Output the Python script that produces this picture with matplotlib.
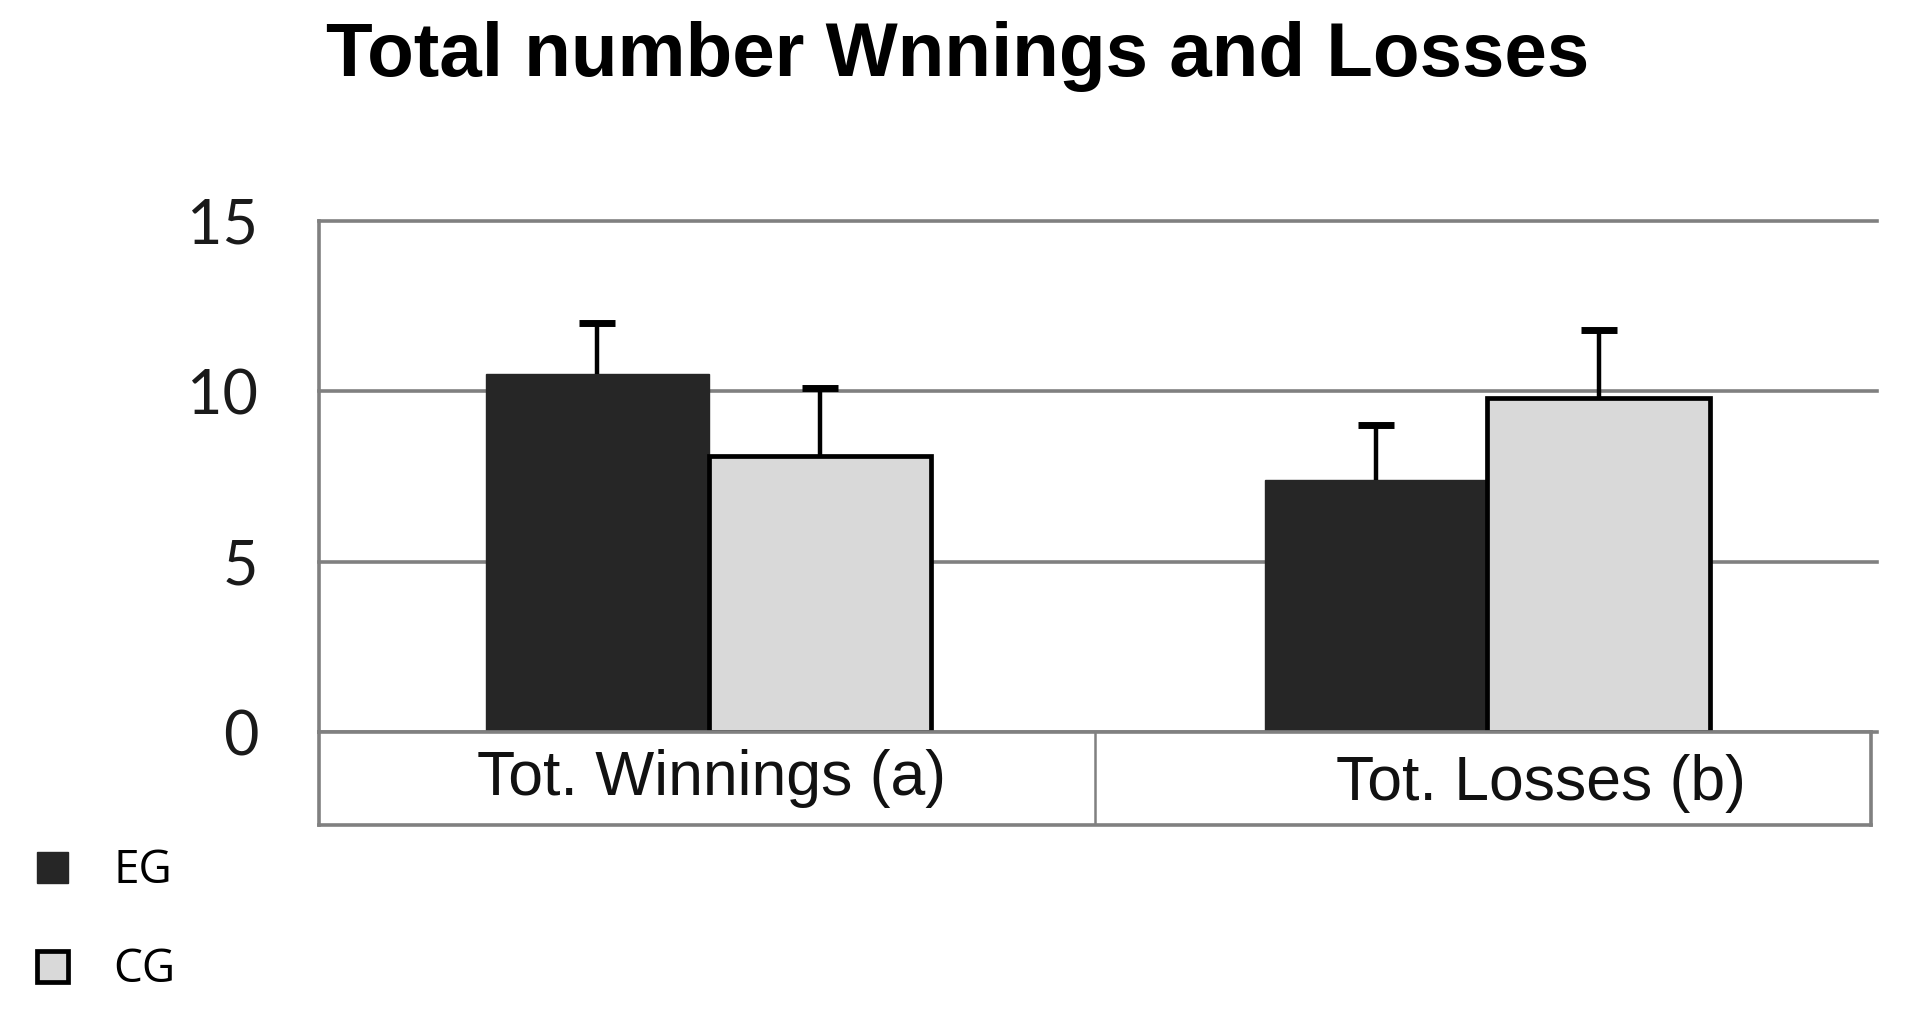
import matplotlib
matplotlib.use("Agg")
import matplotlib.pyplot as plt
from matplotlib.patches import Patch
import numpy as np

# data
categories = ["Tot. Winnings (a)", "Tot. Losses (b)"]
groups = ["EG", "CG"]
eg_mean = [10.5, 7.4]
eg_sd = [1.5, 1.6]
cg_mean = [8.1, 9.8]
cg_sd = [2.0, 2.0]
y_ticks = [0, 5, 10, 15]

eg_color = "#262626"
cg_color = "#d9d9d9"
grid_gray = "#808080"

fig = plt.figure(figsize=(19.11, 10.09), dpi=100)

ax = fig.add_axes([0.1671, 0.2742, 0.815, 0.5072])
ax_cat = fig.add_axes([0.1671, 0.1824, 0.8119, 0.0918])

x = np.arange(len(categories))
w = 0.286

ax.bar(x - w / 2, eg_mean, w, color=eg_color, edgecolor=eg_color, linewidth=1, zorder=3)
ax.bar(x + w / 2, cg_mean, w, color=cg_color, edgecolor="black", linewidth=3.4, zorder=3)

err_style = dict(fmt="none", ecolor="black", elinewidth=3.2, capsize=13, capthick=5, zorder=4)
for xs, m, sd in [(x - w / 2, eg_mean, eg_sd), (x + w / 2, cg_mean, cg_sd)]:
    eb = ax.errorbar(xs, m, yerr=[np.zeros(len(sd)), sd], **err_style)
    # only the upper cap is drawn in the original
    eb[1][0].set_visible(False)

ax.set_xlim(-0.5, 1.5)
ax.set_ylim(0, 15)
ax.set_yticks(y_ticks)
ax.set_yticklabels([str(t) for t in y_ticks], fontsize=44, family="Lato", color="#1a1a1a")
ax.set_xticks([])
ax.tick_params(axis="y", length=0, pad=44)
ax.yaxis.grid(True, color=grid_gray, linewidth=2.6)
ax.set_axisbelow(True)
for side in ["top", "right", "bottom"]:
    ax.spines[side].set_visible(False)
ax.spines["left"].set_color(grid_gray)
ax.spines["left"].set_linewidth(2.6)
for gl in ax.get_ygridlines():
    gl.set_clip_on(False)

# category strip under the bars
ax_cat.set_xlim(-0.5, 1.5)
ax_cat.set_ylim(0, 1)
ax_cat.set_xticks([])
ax_cat.set_yticks([])
for side in ax_cat.spines:
    ax_cat.spines[side].set_color(grid_gray)
    ax_cat.spines[side].set_linewidth(2.6)
ax_cat.axvline(0.5, color=grid_gray, linewidth=1.8)
offsets = [0.005, 0.075]
for i, label in enumerate(categories):
    ax_cat.text(i + offsets[i], 0.5 - 0.05 * i, label, ha="center", va="center",
                fontsize=45, family=["Liberation Sans Narrow", "Liberation Sans"], color="#111111")

fig.text(0.501, 0.944, "Total number Wnnings and Losses", ha="center", va="center",
         fontsize=55, fontweight="bold", family="Liberation Sans")

handles = [Patch(facecolor=eg_color, edgecolor=eg_color),
           Patch(facecolor=cg_color, edgecolor="black", linewidth=3.4)]
fig.legend(handles, groups, loc="upper left", bbox_to_anchor=(-0.002, 0.2),
           frameon=False, handlelength=0.66, handleheight=0.66,
           handletextpad=1.0, labelspacing=1.15, prop={"family": "Open Sans", "size": 33})

fig.savefig("out.png", dpi=100)
